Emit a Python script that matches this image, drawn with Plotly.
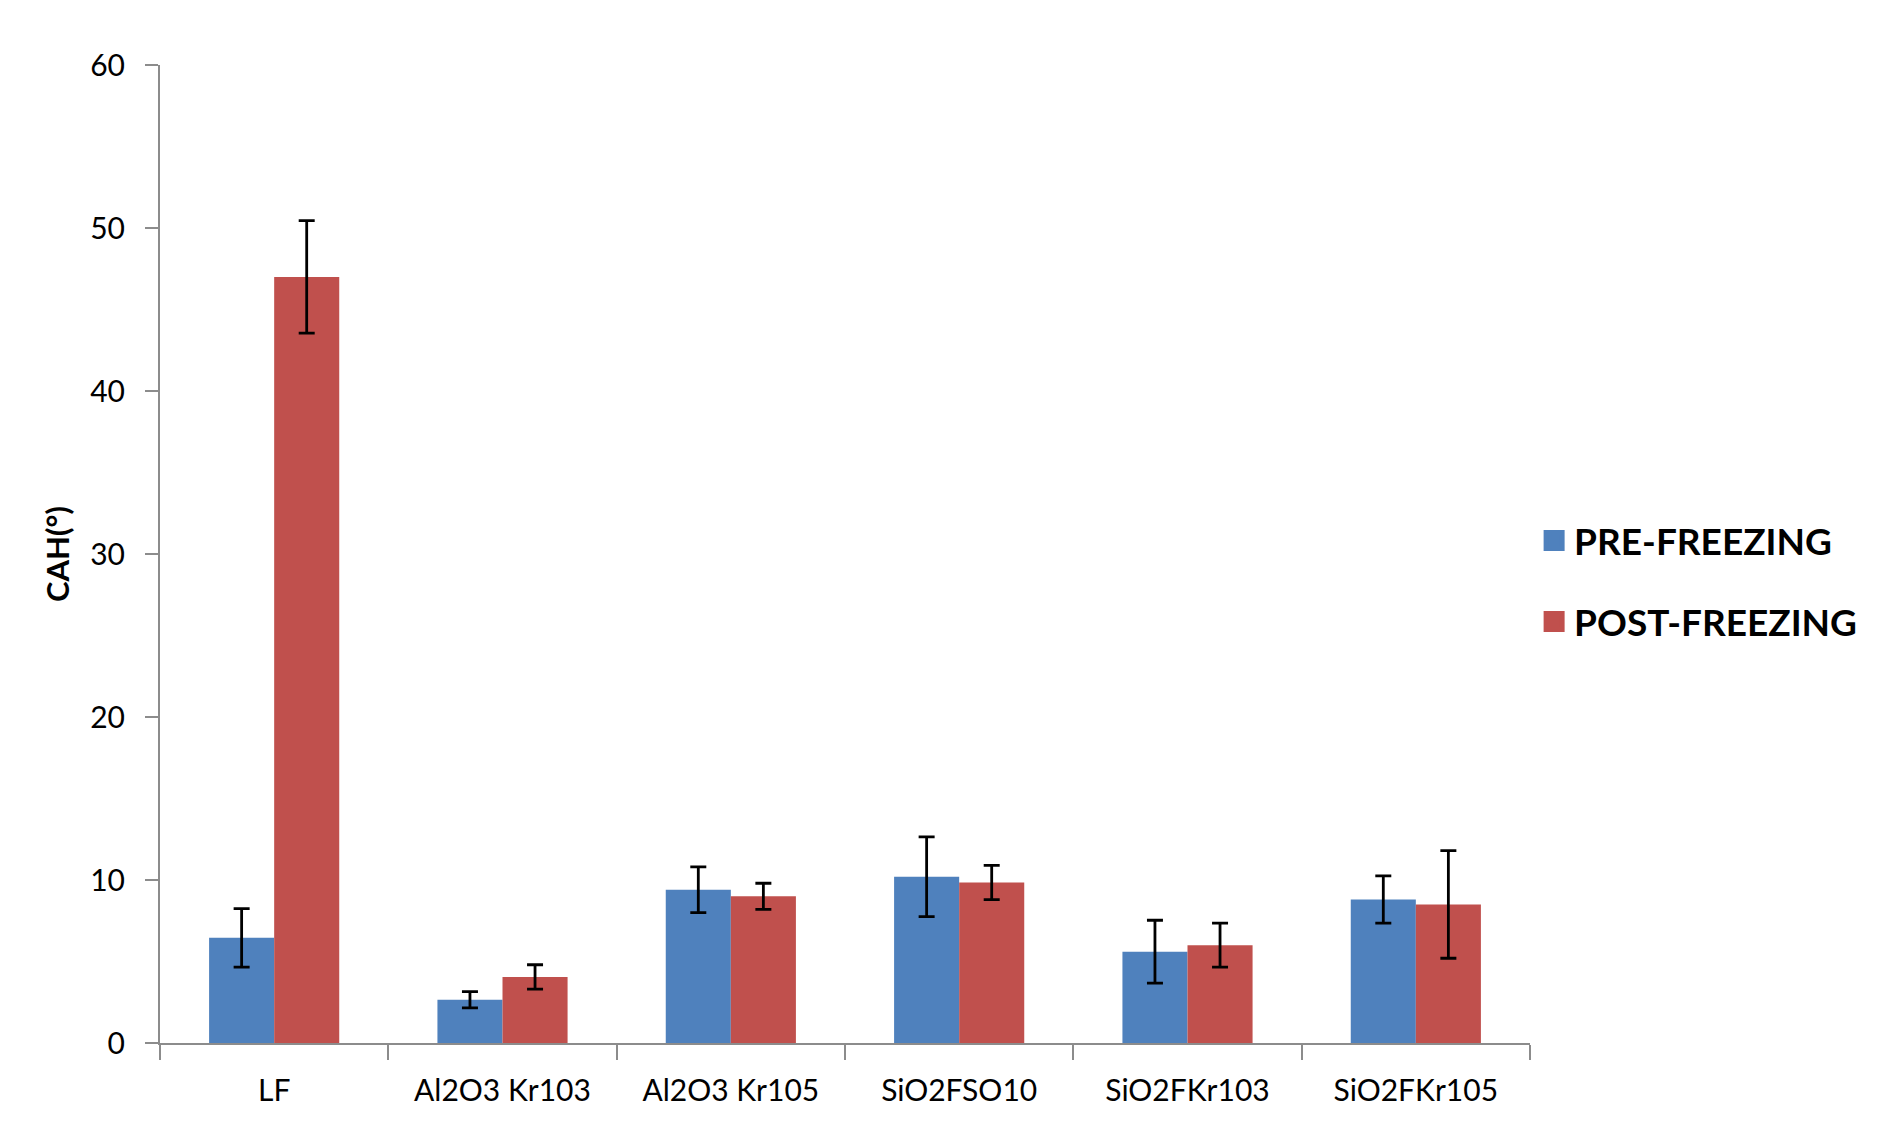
import plotly.graph_objects as go

categories = ["LF", "Al2O3 Kr103", "Al2O3 Kr105", "SiO2FSO10", "SiO2FKr103", "SiO2FKr105"]
pre_values = [6.45, 2.65, 9.4, 10.2, 5.6, 8.8]
pre_errors = [1.8, 0.5, 1.4, 2.45, 1.93, 1.45]
post_values = [47.0, 4.05, 9.0, 9.85, 6.0, 8.5]
post_errors = [3.45, 0.75, 0.8, 1.05, 1.35, 3.3]
series_names = ["PRE-FREEZING", "POST-FREEZING"]
series_colors = ["#4F81BD", "#C0504D"]
y_ticks = [0, 10, 20, 30, 40, 50, 60]

FONT = "Lato, Open Sans, sans-serif"

fig = go.Figure()
for vals, errs, name, col in zip([pre_values, post_values], [pre_errors, post_errors],
                                 series_names, series_colors):
    fig.add_trace(go.Bar(
        x=categories, y=vals, name=name, showlegend=False,
        marker=dict(color=col, line=dict(width=0)),
        error_y=dict(type="data", array=errs, visible=True,
                     color="black", thickness=2.8, width=8),
    ))
# legend entries (square swatches)
for i, (name, col) in enumerate(zip(series_names, series_colors)):
    fig.add_trace(go.Scatter(
        x=[None], y=[None], mode="markers", name=name,
        marker=dict(symbol="square", size=16, color=col, line=dict(color=col, width=5)),
        legendgroup=str(i), hoverinfo="skip",
    ))

fig.update_layout(
    width=1893, height=1141,
    margin=dict(l=152, r=371, t=57, b=106),
    paper_bgcolor="white", plot_bgcolor="white",
    barmode="group", bargap=0.43, bargroupgap=0,
    font=dict(family=FONT, size=22, color="black"),
    legend=dict(
        x=1.003, xanchor="left", y=0.472, yanchor="middle",
        font=dict(size=37, family=FONT, color="black", weight="bold"),
        tracegroupgap=30, traceorder="grouped",
        bgcolor="rgba(0,0,0,0)",
    ),
    showlegend=True,
)
fig.update_xaxes(
    type="category", showline=True, linecolor="#8c8c8c", linewidth=2,
    ticks="outside", tickson="boundaries", ticklen=15, tickcolor="#8c8c8c", tickwidth=2,
    showgrid=False, zeroline=False, ticklabelstandoff=20,
    tickfont=dict(size=30, family=FONT, color="black"),
)
fig.update_yaxes(
    range=[0, 60], tickvals=y_ticks, showline=True, linecolor="#8c8c8c", linewidth=2,
    ticks="outside", ticklen=13, tickcolor="#8c8c8c", tickwidth=2,
    showgrid=False, zeroline=False, ticklabelstandoff=14,
    title=dict(text="<b>CAH(°)</b>", font=dict(size=31, family=FONT, color="black"), standoff=11),
    tickfont=dict(size=30, family=FONT, color="black"),
)

fig.write_html("out.html")
